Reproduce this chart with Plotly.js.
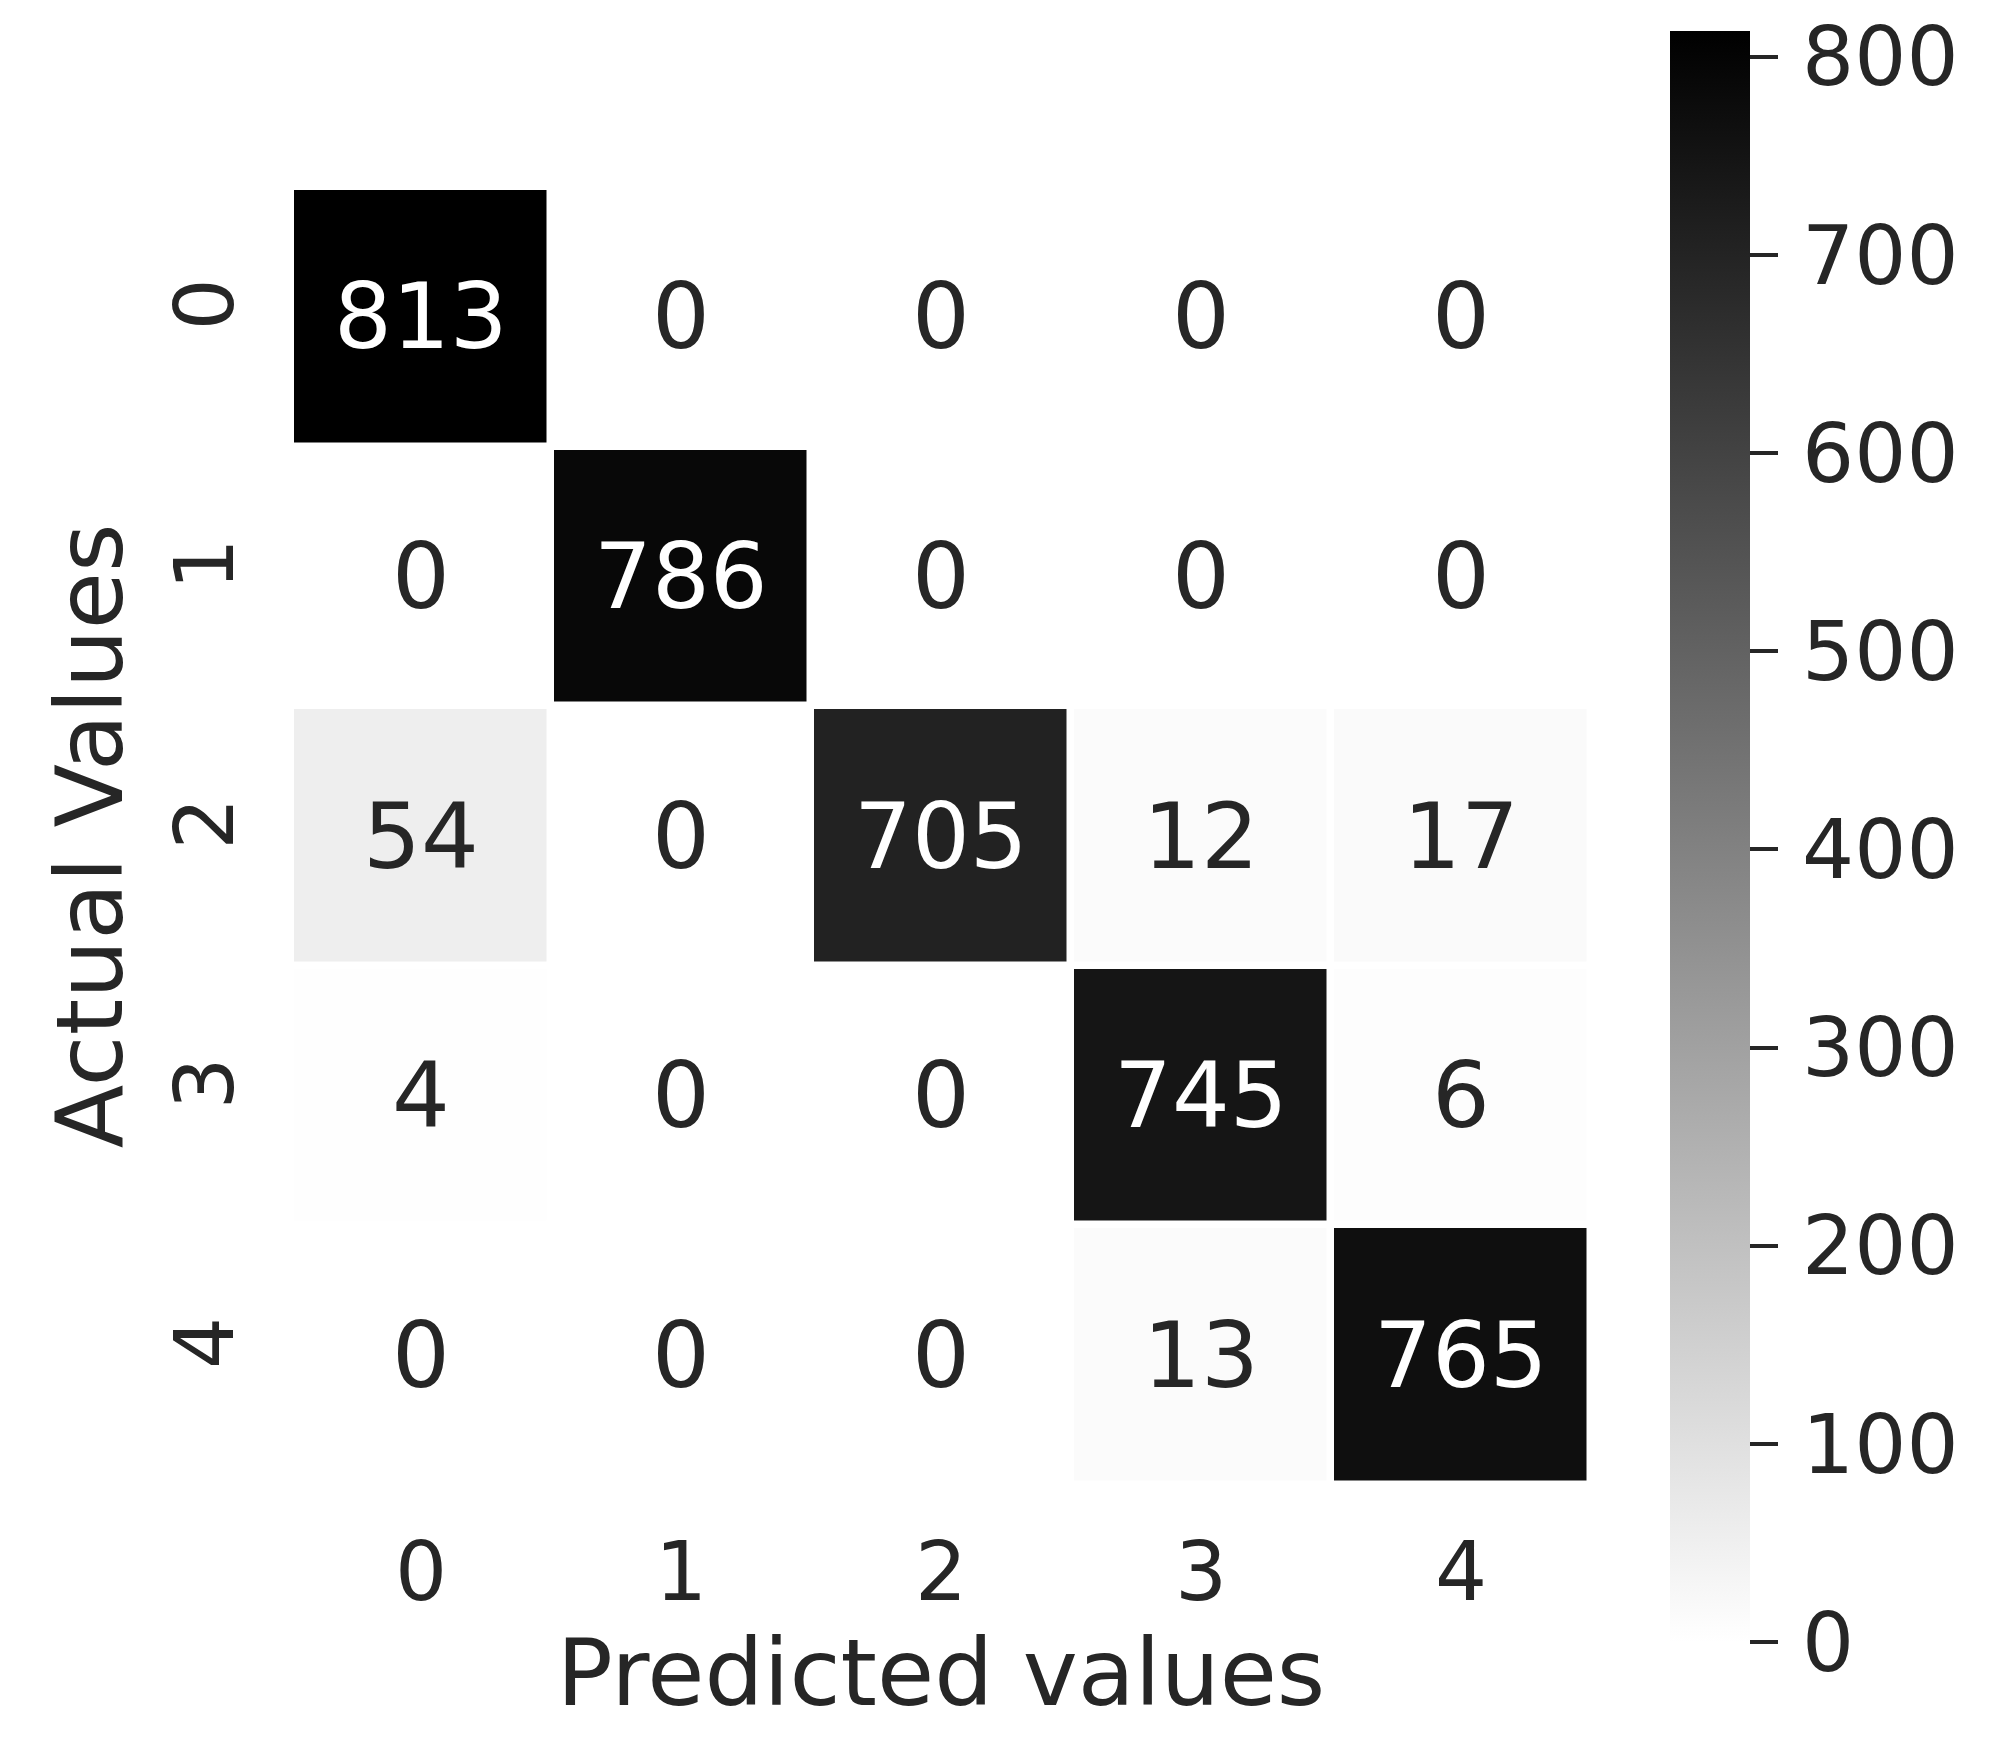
<!DOCTYPE html>
<html>
<head>
<meta charset="utf-8">
<script src="https://cdn.plot.ly/plotly-3.0.1.min.js"></script>
<style>html,body{margin:0;padding:0;background:#fff;}#chart{width:1994px;height:1746px;}</style>
</head>
<body>
<div id="chart"></div>
<script>
// Confusion matrix: rows = actual, columns = predicted
const classLabels = ["0", "1", "2", "3", "4"];
const row0 = [813, 0, 0, 0, 0];
const row1 = [0, 786, 0, 0, 0];
const row2 = [54, 0, 705, 12, 17];
const row3 = [4, 0, 0, 745, 6];
const row4 = [0, 0, 0, 13, 765];
const colorbarTicks = [0, 100, 200, 300, 400, 500, 600, 700, 800];
const xTitle = "Predicted values";
const yTitle = "Actual Values";

const z = [row0, row1, row2, row3, row4];
const idx = classLabels.map((_, i) => i);
const zmax = Math.max(...z.flat());
const FONT = "DejaVu Sans, sans-serif";
const TXT = "#262626";

function lum(v) {
  const g = 1 - v / zmax;
  return g <= 0.03928 ? g / 12.92 : Math.pow((g + 0.055) / 1.055, 2.4);
}

const annotations = [];
z.forEach((row, r) => row.forEach((v, c) => {
  annotations.push({
    x: c, y: r, xref: "x", yref: "y", text: String(v), showarrow: false,
    font: {family: FONT, size: 91, color: lum(v) > 0.408 ? TXT : "#ffffff"}
  });
}));

const ML = 291, MR = 403, MT = 187, MB = 261, W = 1994, H = 1746;
const PW = W - ML - MR, PH = H - MT - MB;

const trace = {
  type: "heatmap",
  z: z, x: idx, y: idx,
  colorscale: [[0, "#ffffff"], [1, "#000000"]],
  zmin: 0, zmax: zmax,
  xgap: 7.5, ygap: 7.5,
  colorbar: {
    thickness: 80, thicknessmode: "pixels",
    len: 1611, lenmode: "pixels",
    xpad: 0, ypad: 0,
    xref: "paper", x: (1670 - ML) / PW, xanchor: "left",
    yref: "paper", y: (H - MB - 836.5) / PH, yanchor: "middle",
    outlinewidth: 0,
    tickvals: colorbarTicks,
    ticktext: colorbarTicks.map(t => "\u200A" + t),
    ticks: "outside", ticklen: 28, tickwidth: 4, tickcolor: TXT,
    tickfont: {family: FONT, size: 82, color: TXT}
  }
};

const layout = {
  width: W, height: H,
  margin: {l: ML, r: MR, t: MT, b: MB, pad: 0},
  paper_bgcolor: "#ffffff", plot_bgcolor: "#ffffff",
  font: {family: FONT, color: TXT},
  xaxis: {
    tickvals: idx, ticktext: classLabels,
    range: [-0.5, 4.5], showgrid: false, zeroline: false, showline: false,
    ticks: "outside", ticklen: 16, tickcolor: "rgba(0,0,0,0)",
    tickfont: {family: FONT, size: 82, color: TXT},
    title: {text: xTitle, font: {family: FONT, size: 93, color: TXT}, standoff: 14},
    automargin: false
  },
  yaxis: {
    tickvals: idx, ticktext: classLabels,
    range: [4.5, -0.5], showgrid: false, zeroline: false, showline: false,
    ticks: "outside", ticklen: 24, tickcolor: "rgba(0,0,0,0)",
    tickangle: -90,
    tickfont: {family: FONT, size: 82, color: TXT},
    title: {text: yTitle, font: {family: FONT, size: 93, color: TXT}, standoff: 3},
    automargin: false
  },
  annotations: annotations
};

Plotly.newPlot("chart", [trace], layout, {displayModeBar: false, staticPlot: true});
</script>
</body>
</html>
